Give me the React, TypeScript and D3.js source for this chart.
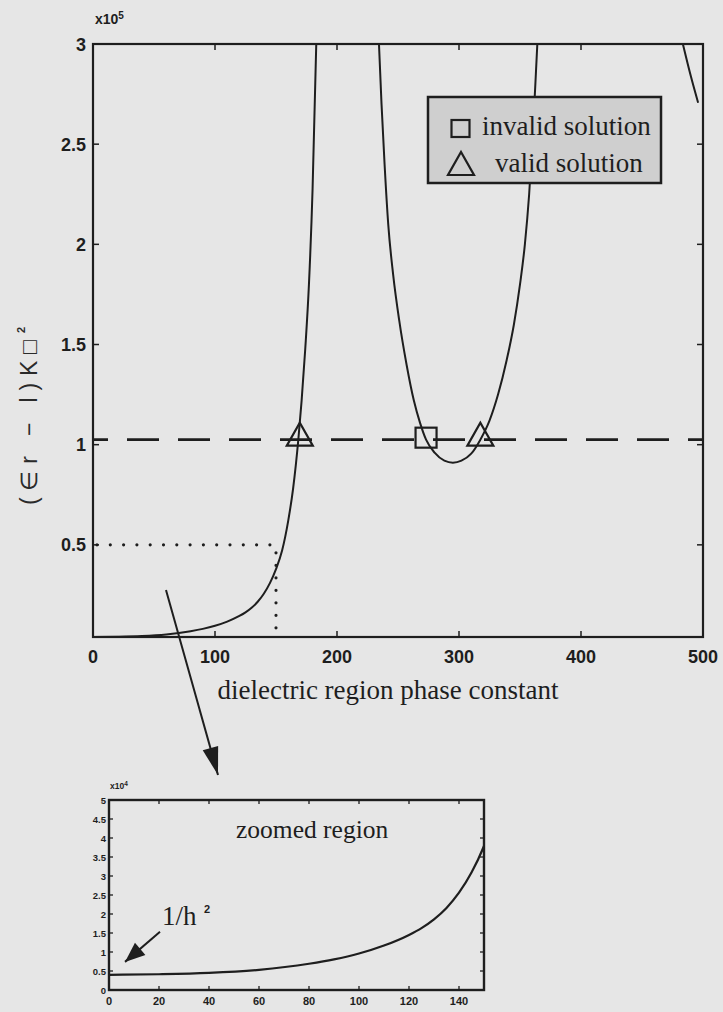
import React from 'react';
import * as d3 from 'd3';

const W = 723;
const H = 1012;

// first branch: starts at 1/h^2 and runs up into the first pole
const branch1X = [0, 20, 40, 60, 80, 90, 100, 110, 120, 125, 130, 135, 140, 145, 150, 155, 160, 164, 168.3, 171, 174, 177, 180, 183];
const branch1Y = [4000, 4150, 4500, 5300, 6900, 8050, 9600, 11700, 14500, 16300, 18600, 21600, 25600, 30900, 37900, 47200, 62000, 78000, 102500, 122000, 148000, 180000, 228000, 300000];

// second branch: the U between the poles
const branch2X = [234.4, 236.5, 239, 242, 246, 251, 257, 263, 268, 273, 280, 288, 295, 302, 310, 317.5, 325, 332, 339, 345, 350, 354, 357.5, 360.5, 363, 364.2];
const branch2Y = [300000, 270000, 240000, 210000, 185000, 162000, 140000, 122000, 111000, 102500, 96000, 92000, 91000, 92000, 95500, 102500, 112000, 125000, 142000, 160000, 180000, 200000, 225000, 255000, 285000, 300000];

// third branch, only its tail shows at the right edge
const branch3X = [483.5, 490, 496];
const branch3Y = [300000, 284000, 270700];

const solutionLevel = 102500; // (er-1)k0^2 line
const validX = [169.5, 317.5];
const invalidX = [273];
const markPoint = { x: 150, y: 50000 };

const mainXTicks = [0, 100, 200, 300, 400, 500];
const mainYTicks = [50000, 100000, 150000, 200000, 250000, 300000];
const insetXTicks = [0, 20, 40, 60, 80, 100, 120, 140];
const insetYTicks = [0, 5000, 10000, 15000, 20000, 25000, 30000, 35000, 40000, 45000, 50000];

const ink = '#1e1e1e';
const sans = '"Liberation Sans", Arial, sans-serif';
const serif = '"Liberation Serif", "Times New Roman", serif';

const zip = (xs: number[], ys: number[]) => xs.map((x, i) => [x, ys[i]] as [number, number]);

function arrowHead(x1: number, y1: number, x2: number, y2: number, len: number, half: number) {
  const dx = x2 - x1;
  const dy = y2 - y1;
  const l = Math.hypot(dx, dy);
  const ux = dx / l;
  const uy = dy / l;
  const bx = x2 - ux * len;
  const by = y2 - uy * len;
  return `M${x2},${y2}L${bx - uy * half},${by + ux * half}L${bx + uy * half},${by - ux * half}Z`;
}

export default function App() {
  const x = d3.scaleLinear().domain([0, 500]).range([93, 703]);
  const y = d3.scaleLinear().domain([4000, 300000]).range([637, 44]);

  const xi = d3.scaleLinear().domain([0, 150]).range([109, 484]);
  const yi = d3.scaleLinear().domain([0, 50000]).range([990, 800]);

  const line = d3
    .line<[number, number]>()
    .x((d) => x(d[0]))
    .y((d) => y(d[1]))
    .curve(d3.curveMonotoneX);

  const lineInset = d3
    .line<[number, number]>()
    .x((d) => xi(d[0]))
    .y((d) => yi(d[1]))
    .curve(d3.curveMonotoneX);

  const b1 = zip(branch1X, branch1Y);
  const b2 = zip(branch2X, branch2Y);
  const b3 = zip(branch3X, branch3Y);
  const insetPts = b1.filter((d) => d[0] <= 155);

  const [x0, x1] = x.range();
  const [y0, y1] = y.range();
  const [ix0, ix1] = xi.range();
  const [iy0, iy1] = yi.range();

  const tri = (cx: number, cy: number) => `M${cx - 13},${cy + 6}L${cx + 13},${cy + 6}L${cx},${cy - 17}Z`;

  // arrows (annotation layout)
  const a1 = { x1: 166, y1: 590, x2: 218, y2: 775 };
  const a2 = { x1: xi(20.4), y1: yi(15300), x2: xi(6.4), y2: yi(7400) };

  return (
    <svg width={W} height={H} style={{ position: 'absolute', left: 0, top: 0 }}>
      <defs>
        <clipPath id="plotClip">
          <rect x={x0} y={y1} width={x1 - x0} height={y0 - y1} />
        </clipPath>
        <clipPath id="insetClip">
          <rect x={ix0} y={iy1} width={ix1 - ix0} height={iy0 - iy1} />
        </clipPath>
      </defs>
      <rect width={W} height={H} fill="#e6e6e6" />

      {/* main plot */}
      <g clipPath="url(#plotClip)" fill="none" stroke={ink} strokeWidth={2}>
        <path d={line(b1) || ''} />
        <path d={line(b2) || ''} />
        <path d={line(b3) || ''} />
      </g>

      <line x1={x0} x2={x1} y1={y(solutionLevel)} y2={y(solutionLevel)} stroke={ink} strokeWidth={2.6}
        strokeDasharray="32 19" strokeDashoffset={17} />
      <line x1={x0 + 4} x2={x(markPoint.x)} y1={y(markPoint.y)} y2={y(markPoint.y)} stroke={ink} strokeWidth={3.2}
        strokeDasharray="0 13.3" strokeLinecap="round" />
      <line x1={x(markPoint.x)} x2={x(markPoint.x)} y1={y(markPoint.y) + 8} y2={y0} stroke={ink} strokeWidth={3.2}
        strokeDasharray="0 12.5" strokeLinecap="round" />

      {validX.map((v) => (
        <path key={'v' + v} d={tri(x(v), y(solutionLevel))} fill="none" stroke={ink} strokeWidth={2.2} />
      ))}
      {invalidX.map((v) => (
        <rect key={'i' + v} x={x(v) - 10.5} y={y(solutionLevel) - 12} width={21} height={20} fill="none" stroke={ink} strokeWidth={2.2} />
      ))}

      {/* frame and ticks */}
      <rect x={x0} y={y1} width={x1 - x0} height={y0 - y1} fill="none" stroke={ink} strokeWidth={2.2} />
      {mainXTicks.map((t) => (
        <g key={'xt' + t}>
          <line x1={x(t)} x2={x(t)} y1={y0} y2={y0 - 6} stroke={ink} strokeWidth={1.5} />
          <line x1={x(t)} x2={x(t)} y1={y1} y2={y1 + 6} stroke={ink} strokeWidth={1.5} />
          <text x={x(t)} y={y0 + 26} textAnchor="middle" fontFamily={sans} fontWeight="bold" fontSize={18} fill={ink}>
            {t}
          </text>
        </g>
      ))}
      {mainYTicks.map((t) => (
        <g key={'yt' + t}>
          <line x1={x0} x2={x0 + 6} y1={y(t)} y2={y(t)} stroke={ink} strokeWidth={1.5} />
          <line x1={x1} x2={x1 - 6} y1={y(t)} y2={y(t)} stroke={ink} strokeWidth={1.5} />
          <text x={x0 - 7} y={y(t) + 6.5} textAnchor="end" fontFamily={sans} fontWeight="bold" fontSize={18} fill={ink}>
            {String(t / 1e5)}
          </text>
        </g>
      ))}
      <text x={95} y={24} fontFamily={sans} fontWeight="bold" fontSize={14} fill={ink}>
        x10<tspan dy={-5} fontSize={10}>5</tspan>
      </text>

      <text x={388} y={699} textAnchor="middle" fontFamily={serif} fontSize={27} fill={ink}>
        dielectric region phase constant
      </text>

      <text transform="translate(37,505) rotate(-90)" fontFamily={sans} fontSize={23} fill="#2a2a2a"
        textLength={165} lengthAdjust="spacing">
        (∈r − l)K□
      </text>
      <text transform="translate(25,333) rotate(-90)" fontFamily={sans} fontWeight="bold" fontSize={11} fill="#2a2a2a">
        2
      </text>

      {/* legend */}
      <rect x={428} y={97} width={233} height={86} fill="#cfcfcf" stroke={ink} strokeWidth={2.5} />
      <rect x={451.5} y={120} width={18} height={17} fill="none" stroke={ink} strokeWidth={2.2} />
      <text x={482} y={135} fontFamily={serif} fontSize={27} fill={ink}>invalid solution</text>
      <path d={`M448,175L474,175L461,152Z`} fill="none" stroke={ink} strokeWidth={2.2} />
      <text x={495} y={172} fontFamily={serif} fontSize={27} fill={ink}>valid solution</text>

      {/* arrow down to the inset */}
      <line x1={a1.x1} y1={a1.y1} x2={a1.x2} y2={a1.y2} stroke={ink} strokeWidth={2} />
      <path d={arrowHead(a1.x1, a1.y1, a1.x2, a1.y2, 28, 8)} fill={ink} />

      {/* inset */}
      <g clipPath="url(#insetClip)">
        <path d={lineInset(insetPts) || ''} fill="none" stroke={ink} strokeWidth={2.2} />
      </g>
      <rect x={ix0} y={iy1} width={ix1 - ix0} height={iy0 - iy1} fill="none" stroke={ink} strokeWidth={2.4} />
      {insetXTicks.map((t) => (
        <g key={'ixt' + t}>
          <line x1={xi(t)} x2={xi(t)} y1={iy0} y2={iy0 - 4} stroke={ink} strokeWidth={1.3} />
          <line x1={xi(t)} x2={xi(t)} y1={iy1} y2={iy1 + 4} stroke={ink} strokeWidth={1.3} />
          <text x={xi(t)} y={iy0 + 15} textAnchor="middle" fontFamily={sans} fontWeight="bold" fontSize={11} fill={ink}>
            {t}
          </text>
        </g>
      ))}
      {insetYTicks.map((t) => (
        <g key={'iyt' + t}>
          <line x1={ix0} x2={ix0 + 4} y1={yi(t)} y2={yi(t)} stroke={ink} strokeWidth={1.3} />
          <line x1={ix1} x2={ix1 - 4} y1={yi(t)} y2={yi(t)} stroke={ink} strokeWidth={1.3} />
          <text x={ix0 - 3} y={yi(t) + 3.5} textAnchor="end" fontFamily={sans} fontWeight="bold" fontSize={9.5} fill={ink}>
            {String(t / 1e4)}
          </text>
        </g>
      ))}
      <text x={ix0 + 1} y={iy1 - 11} fontFamily={sans} fontWeight="bold" fontSize={8.5} fill={ink}>
        x10<tspan dy={-3} fontSize={6.5}>4</tspan>
      </text>
      <text x={236} y={838} fontFamily={serif} fontSize={25.5} fill={ink}>zoomed region</text>
      <text x={162} y={925} fontFamily={serif} fontSize={27} fill={ink}>1/h</text>
      <text x={204} y={913} fontFamily={sans} fontWeight="bold" fontSize={11} fill={ink}>2</text>
      <line x1={a2.x1} y1={a2.y1} x2={a2.x2} y2={a2.y2} stroke={ink} strokeWidth={2} />
      <path d={arrowHead(a2.x1, a2.y1, a2.x2, a2.y2, 20, 8)} fill={ink} />
    </svg>
  );
}
